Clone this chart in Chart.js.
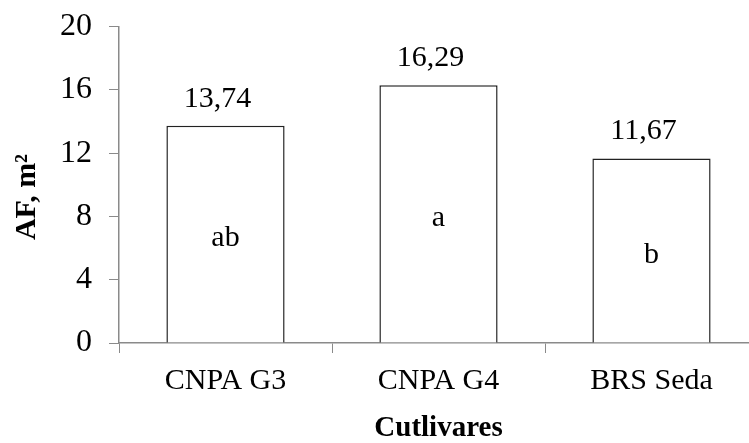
<!DOCTYPE html>
<html>
<head>
<meta charset="utf-8">
<script src="https://cdn.jsdelivr.net/npm/chart.js@4"></script>
<style>
  html, body { margin: 0; padding: 0; background: #fff; overflow: hidden; }
  #wrap { width: 758px; height: 443px; }
</style>
</head>
<body>
<div id="wrap"><canvas id="barChart" width="758" height="443"></canvas></div>
<script>
/* DATA */
const cultivares = ['CNPA G3', 'CNPA G4', 'BRS Seda'];
const areaFoliar = [13.74, 16.29, 11.67];
const letras = ['ab', 'a', 'b'];
const yTicks = [0, 4, 8, 12, 16, 20];

const serif = '"Liberation Serif", "Times New Roman", serif';
const axisGray = '#8a8a8a';

/* value labels above bars + letters inside bars + y title */
const barText = {
    id: 'barText',
    afterDatasetsDraw(chart) {
        const ctx = chart.ctx;
        const y = chart.scales.y;
        const bars = chart.getDatasetMeta(0).data;
        ctx.save();
        ctx.fillStyle = '#000';
        ctx.textAlign = 'center';
        ctx.textBaseline = 'alphabetic';
        ctx.font = '30px ' + serif;
        bars.forEach((bar, i) => {
            const v = areaFoliar[i];
            ctx.fillText(v.toFixed(2).replace('.', ','), bar.x - 8, bar.y - 19);
            ctx.fillText(letras[i], bar.x, y.getPixelForValue(v / 2) + 12);
        });
        // y axis title
        ctx.font = 'bold 30px ' + serif;
        ctx.translate(27, 197);
        ctx.rotate(-Math.PI / 2);
        ctx.textBaseline = 'middle';
        ctx.fillText('AF, m²', 0, 0);
        ctx.restore();
    }
};

new Chart(document.getElementById('barChart'), {
    type: 'bar',
    data: {
        labels: cultivares,
        datasets: [{
            data: areaFoliar,
            backgroundColor: '#ffffff',
            borderColor: '#222222',
            borderWidth: 1.5,
            barPercentage: 0.555,
            categoryPercentage: 1
        }]
    },
    options: {
        responsive: false,
        animation: false,
        layout: { padding: { left: 43, top: 4, right: 0, bottom: 0 } },
        plugins: {
            legend: { display: false },
            tooltip: { enabled: false }
        },
        scales: {
            x: {
                grid: {
                    drawOnChartArea: false,
                    drawTicks: true,
                    tickLength: 10,
                    color: axisGray,
                    offset: true
                },
                border: { color: axisGray, width: 1.5 },
                ticks: {
                    color: '#000',
                    padding: 10,
                    font: { family: serif, size: 30 }
                },
                title: {
                    display: true,
                    text: 'Cutlivares',
                    color: '#000',
                    padding: { top: 5, bottom: 0 },
                    font: { family: serif, size: 29, weight: 'bold', lineHeight: 1 }
                }
            },
            y: {
                min: 0,
                max: 20,
                afterBuildTicks: (scale) => {
                    scale.ticks = yTicks.map(v => ({ value: v }));
                },
                grid: {
                    drawOnChartArea: false,
                    drawTicks: true,
                    tickLength: 10,
                    color: axisGray
                },
                border: { color: axisGray, width: 1.5 },
                ticks: {
                    color: '#000',
                    padding: 17,
                    font: { family: serif, size: 32, lineHeight: 0.6 }
                }
            }
        }
    },
    plugins: [barText]
});
</script>
</body>
</html>
